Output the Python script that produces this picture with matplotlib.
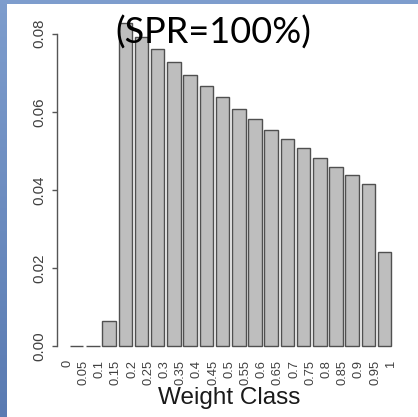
import matplotlib
matplotlib.use('Agg')
import matplotlib.pyplot as plt
import numpy as np
from matplotlib.patches import Rectangle
from matplotlib.colors import LinearSegmentedColormap

# ---- data ----
weight_labels = ['0', '0.05', '0.1', '0.15', '0.2', '0.25', '0.3', '0.35', '0.4',
                 '0.45', '0.5', '0.55', '0.6', '0.65', '0.7', '0.75', '0.8',
                 '0.85', '0.9', '0.95', '1']
proportions = [0.0, 0.0, 0.0066, 0.0827, 0.0791, 0.0760, 0.0728, 0.0694, 0.0665,
               0.0637, 0.0607, 0.0581, 0.0554, 0.0530, 0.0507, 0.0482, 0.0458,
               0.0438, 0.0416, 0.0241]
y_ticks = [0.00, 0.02, 0.04, 0.06, 0.08]
title_text = '(SPR=100%)'
xlabel_text = 'Weight Class'

W, H = 418, 417
fig = plt.figure(figsize=(W / 100, H / 100), dpi=100)
fig.patch.set_facecolor('white')

# blue slide border (left gradient strip + top strip)
cmap = LinearSegmentedColormap.from_list('b', ['#7E9DCD', '#5A7BB2'])
gax = fig.add_axes([0, 0, 7 / W, 1])
gax.imshow(np.linspace(0, 1, 256).reshape(-1, 1), aspect='auto', cmap=cmap)
gax.axis('off')
fig.patches.append(Rectangle((0, 1 - 4 / H), 1, 4 / H, transform=fig.transFigure,
                             facecolor='#7E9DCD', edgecolor='none', zorder=5))

ax = fig.add_axes([57 / W, 1 - 359.4 / H, 350 / W, 349.2 / H])
ax.set_facecolor('white')
n = len(proportions)
centers = 0.7 + 1.2 * np.arange(n)
ax.bar(centers, proportions, width=1.0, color='#BEBEBE', edgecolor='#505050',
       linewidth=1.0)
ax.set_xlim(-0.76, 25.16)
ax.set_ylim(-0.0033, 0.0860)

for s in ['top', 'right', 'bottom']:
    ax.spines[s].set_visible(False)
ax.spines['left'].set_bounds(0, 0.08)
ax.spines['left'].set_color('#555555')
ax.spines['left'].set_linewidth(1.0)

ax.set_yticks(y_ticks)
ax.set_yticklabels(['%.2f' % v for v in y_ticks], rotation=90, va='center',
                   family='Liberation Sans', fontsize=10.8, color='#404040')
ax.tick_params(axis='y', length=3.6, width=1.0, color='#555555', pad=4)

ax.set_xticks(1.2 * np.arange(len(weight_labels)))
ax.set_xticklabels(weight_labels, rotation=90, ha='center', va='top',
                   family='Liberation Sans', fontsize=9.3, color='#404040')
ax.tick_params(axis='x', length=0, pad=0.5)

fig.text(229.5 / W, 1 - 404 / H, xlabel_text, ha='center', va='baseline',
         family='Liberation Sans', fontsize=17.5, color='#1a1a1a')
fig.text(213 / W, 1 - 43.5 / H, title_text, ha='center', va='baseline',
         family='Lato', fontsize=26, color='black', zorder=10)

fig.savefig('out.png', dpi=100)
